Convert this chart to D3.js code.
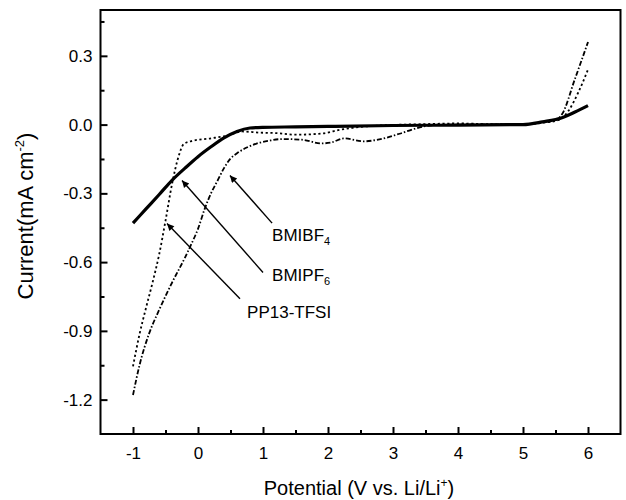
<!DOCTYPE html>
<html>
<head>
<meta charset="utf-8">
<script src="https://cdn.jsdelivr.net/npm/d3@7"></script>
<style>
  body { margin: 0; background: #fff; }
  text { font-family: "Liberation Sans", Arial, sans-serif; fill: #000; }
</style>
</head>
<body>
<script>
let w = 626;
let h = 500;

// BMIPF6 (solid line)
let pf6X = [-1, -0.8, -0.6, -0.4, -0.2, 0, 0.2, 0.4, 0.6, 0.8, 1, 1.5, 2, 3, 4, 5, 5.3, 5.6, 5.8, 6];
let pf6Y = [-0.43, -0.368, -0.306, -0.243, -0.19, -0.14, -0.097, -0.058, -0.03, -0.015, -0.012, -0.01, -0.008, -0.004, -0.002, 0.0, 0.012, 0.03, 0.055, 0.083];

// PP13-TFSI (dotted line)
let tfsiX = [-1, -0.9, -0.8, -0.7, -0.6, -0.5, -0.4, -0.3, -0.22, -0.1, 0.2, 0.45, 0.68, 0.95, 1.2, 1.5, 1.9, 2.2, 2.5, 2.8, 3.5, 4, 4.5, 5, 5.3, 5.55, 5.7, 5.85, 6];
let tfsiY = [-1.055, -0.915, -0.8, -0.69, -0.57, -0.42, -0.26, -0.14, -0.085, -0.072, -0.06, -0.048, -0.03, -0.035, -0.037, -0.044, -0.039, -0.022, -0.01, -0.004, 0.002, 0.005, 0.002, 0.002, 0.008, 0.02, 0.06, 0.14, 0.24];

// BMIBF4 (dash-dot line)
let bf4X = [-1, -0.9, -0.75, -0.6, -0.4, -0.2, -0.1, 0, 0.1, 0.2, 0.3, 0.4, 0.5, 0.6, 0.75, 0.9, 1.1, 1.3, 1.6, 1.9, 2.05, 2.25, 2.55, 2.75, 3.1, 3.4, 3.6, 4, 5, 5.3, 5.5, 5.6, 5.8, 6];
let bf4Y = [-1.18, -1.05, -0.91, -0.81, -0.69, -0.58, -0.52, -0.455, -0.37, -0.3, -0.245, -0.19, -0.148, -0.125, -0.1, -0.083, -0.07, -0.063, -0.066, -0.082, -0.078, -0.06, -0.073, -0.067, -0.04, -0.013, -0.003, 0, 0.002, 0.01, 0.02, 0.045, 0.2, 0.36];

// tick values
let xMajor = [-1, 0, 1, 2, 3, 4, 5, 6];
let xMinor = [-0.5, 0.5, 1.5, 2.5, 3.5, 4.5, 5.5];
let yMajor = [-1.2, -0.9, -0.6, -0.3, 0.0, 0.3];
let yMinor = [-1.05, -0.75, -0.45, -0.15, 0.15, 0.45];

// annotation labels with arrow tail / tip in data units
let labelNames = ["BMIBF", "BMIPF", "PP13-TFSI"];
let labelSubs = ["4", "6", ""];
let labelPos = [[1.14, -0.51], [1.14, -0.682], [0.755, -0.843]];
let arrowTail = [[1.14, -0.43], [1.0, -0.645], [0.646, -0.76]];
let arrowTip = [[0.492, -0.222], [-0.246, -0.244], [-0.477, -0.432]];

let xScale = d3.scaleLinear().domain([-1.5, 6.5]).range([100.5, 620.5]);
let yScale = d3.scaleLinear().domain([-1.35, 0.5]).range([434, 10]);

//plain hyphen for negative numbers, like the original
let locale = d3.formatLocale({ decimal: ".", thousands: ",", grouping: [3], currency: ["", ""], minus: "-" });

let svg = d3.select("body")
    .append("svg")
    .attr("width", w)
    .attr("height", h);

svg.append("defs")
    .append("marker")
    .attr("id", "head")
    .attr("viewBox", "0 0 10 10")
    .attr("refX", 10)
    .attr("refY", 5)
    .attr("markerUnits", "userSpaceOnUse")
    .attr("markerWidth", 10)
    .attr("markerHeight", 7)
    .attr("orient", "auto")
    .append("path")
    .attr("d", "M0,0 L10,5 L0,10 Z")
    .attr("fill", "#000");

//Axes (ticks point inward)
let fontSize = 17;

let xAxis = d3.axisBottom(xScale)
    .tickValues(xMajor)
    .tickSize(-7)
    .tickPadding(13)
    .tickFormat(locale.format("d"));

let yAxis = d3.axisLeft(yScale)
    .tickValues(yMajor)
    .tickSize(-7)
    .tickPadding(8)
    .tickFormat(locale.format(".1f"));

svg.append("g")
    .attr("transform", "translate(0,434)")
    .call(xAxis);
svg.append("g")
    .attr("transform", "translate(100.5,0)")
    .call(yAxis);

svg.append("g")
    .attr("transform", "translate(0,434)")
    .call(d3.axisBottom(xScale).tickValues(xMinor).tickSize(-4).tickFormat(""));
svg.append("g")
    .attr("transform", "translate(100.5,0)")
    .call(d3.axisLeft(yScale).tickValues(yMinor).tickSize(-4).tickFormat(""));

svg.selectAll(".domain").remove();
svg.selectAll(".tick line").attr("stroke", "#000").attr("stroke-width", 2);
svg.selectAll(".tick text")
    .style("font-family", "'Liberation Sans', Arial, sans-serif")
    .style("font-size", fontSize + "px")
    .attr("fill", "#000");

//Frame
svg.append("rect")
    .attr("x", xScale(-1.5))
    .attr("y", yScale(0.5))
    .attr("width", xScale(6.5) - xScale(-1.5))
    .attr("height", yScale(-1.35) - yScale(0.5))
    .attr("fill", "none")
    .attr("stroke", "#000")
    .attr("stroke-width", 2);

//Curves
let line = d3.line()
    .x(function(d) { return xScale(d[0]); })
    .y(function(d) { return yScale(d[1]); })
    .curve(d3.curveMonotoneX);

let series = [
    { xs: bf4X, ys: bf4Y, width: 1.8, dash: "5,2,1.5,2" },
    { xs: tfsiX, ys: tfsiY, width: 1.8, dash: "2.2,2.6" },
    { xs: pf6X, ys: pf6Y, width: 3.2, dash: null }
];

series.forEach(function(s) {
    let pts = s.xs.map(function(x, i) { return [x, s.ys[i]]; });
    svg.append("path")
        .datum(pts)
        .attr("d", line)
        .attr("fill", "none")
        .attr("stroke", "#000")
        .attr("stroke-width", s.width)
        .attr("stroke-dasharray", s.dash);
});

//Arrows and labels
for (let i = 0; i < labelNames.length; i++) {
    svg.append("line")
        .attr("x1", xScale(arrowTail[i][0]))
        .attr("y1", yScale(arrowTail[i][1]))
        .attr("x2", xScale(arrowTip[i][0]))
        .attr("y2", yScale(arrowTip[i][1]))
        .attr("stroke", "#000")
        .attr("stroke-width", 1.4)
        .attr("marker-end", "url(#head)");

    let t = svg.append("text")
        .attr("x", xScale(labelPos[i][0]))
        .attr("y", yScale(labelPos[i][1]))
        .style("font-size", fontSize + "px")
        .text(labelNames[i]);
    if (labelSubs[i]) {
        t.append("tspan")
            .attr("dy", 4)
            .style("font-size", "11px")
            .text(labelSubs[i]);
    }
}

//Axis titles
let xt = svg.append("text")
    .attr("x", 359)
    .attr("y", 495)
    .attr("text-anchor", "middle")
    .style("font-size", "20px")
    .text("Potential (V vs. Li/Li");
xt.append("tspan").attr("dy", -8).style("font-size", "12px").text("+");
xt.append("tspan").attr("dy", 8).text(")");

let yt = svg.append("text")
    .attr("transform", "translate(33,216) rotate(-90)")
    .attr("text-anchor", "middle")
    .style("font-size", "22px")
    .text("Current(mA cm");
yt.append("tspan").attr("dy", -9).style("font-size", "13px").text("-2");
yt.append("tspan").attr("dy", 9).text(")");
</script>
</body>
</html>
